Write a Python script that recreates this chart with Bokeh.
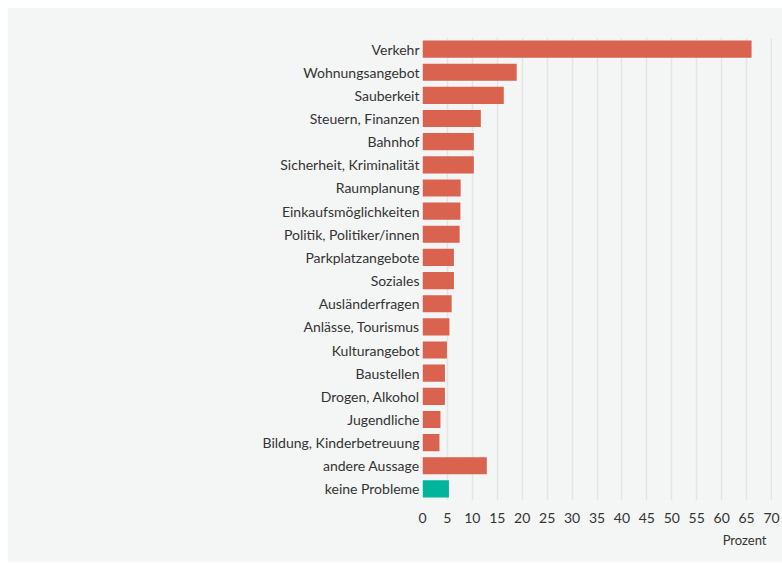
from bokeh.plotting import figure
from bokeh.models import FactorRange, Range1d, FixedTicker, Title
from bokeh.embed import file_html
from bokeh.resources import INLINE

categories = ["Verkehr", "Wohnungsangebot", "Sauberkeit", "Steuern, Finanzen", "Bahnhof",
              "Sicherheit, Kriminalität", "Raumplanung", "Einkaufsmöglichkeiten",
              "Politik, Politiker/innen", "Parkplatzangebote", "Soziales", "Ausländerfragen",
              "Anlässe, Tourismus", "Kulturangebot", "Baustellen", "Drogen, Alkohol",
              "Jugendliche", "Bildung, Kinderbetreuung", "andere Aussage", "keine Probleme"]
values = [66.0, 18.9, 16.3, 11.7, 10.3, 10.3, 7.65, 7.6, 7.45, 6.3, 6.3, 5.85, 5.4, 4.9,
          4.5, 4.5, 3.6, 3.4, 12.9, 5.3]
colors = ["#d9634f"] * 19 + ["#00b59c"]
x_ticks = list(range(0, 75, 5))

BG = "#f4f6f5"
FONT = "Lato"

p = figure(width=775, height=555, output_backend="svg", toolbar_location=None,
           y_range=FactorRange(factors=categories[::-1], range_padding=0),
           x_range=Range1d(0, 70.2),
           min_border_left=415, min_border_right=10, min_border_top=30, min_border_bottom=62)
p.margin = (7, 0, 0, 7)
p.background_fill_color = BG
p.border_fill_color = BG
p.outline_line_color = None

p.hbar(y=categories, right=values, height=0.74, left=0, color=colors, line_color=None)

p.xaxis.ticker = FixedTicker(ticks=x_ticks)
p.xgrid.ticker = FixedTicker(ticks=x_ticks)
p.xgrid.grid_line_color = "#e3e5e4"
p.xgrid.grid_line_width = 1.5
p.ygrid.grid_line_color = None

for ax in (p.xaxis, p.yaxis):
    ax.axis_line_color = None
    ax.major_tick_line_color = None
    ax.minor_tick_line_color = None
    ax.major_tick_out = 0
    ax.major_tick_in = 0
    ax.minor_tick_out = 0
    ax.major_label_text_font = FONT
    ax.major_label_text_font_size = "14px"
    ax.major_label_text_color = "#333333"
p.xaxis.major_label_standoff = 12
p.yaxis.major_label_standoff = 3

p.add_layout(Title(text="Prozent", align="right", text_font=FONT, text_font_size="13px",
                   text_font_style="normal", text_color="#333333", offset=6,
                   standoff=9), "below")

open("out.html", "w").write(file_html(p, INLINE))
